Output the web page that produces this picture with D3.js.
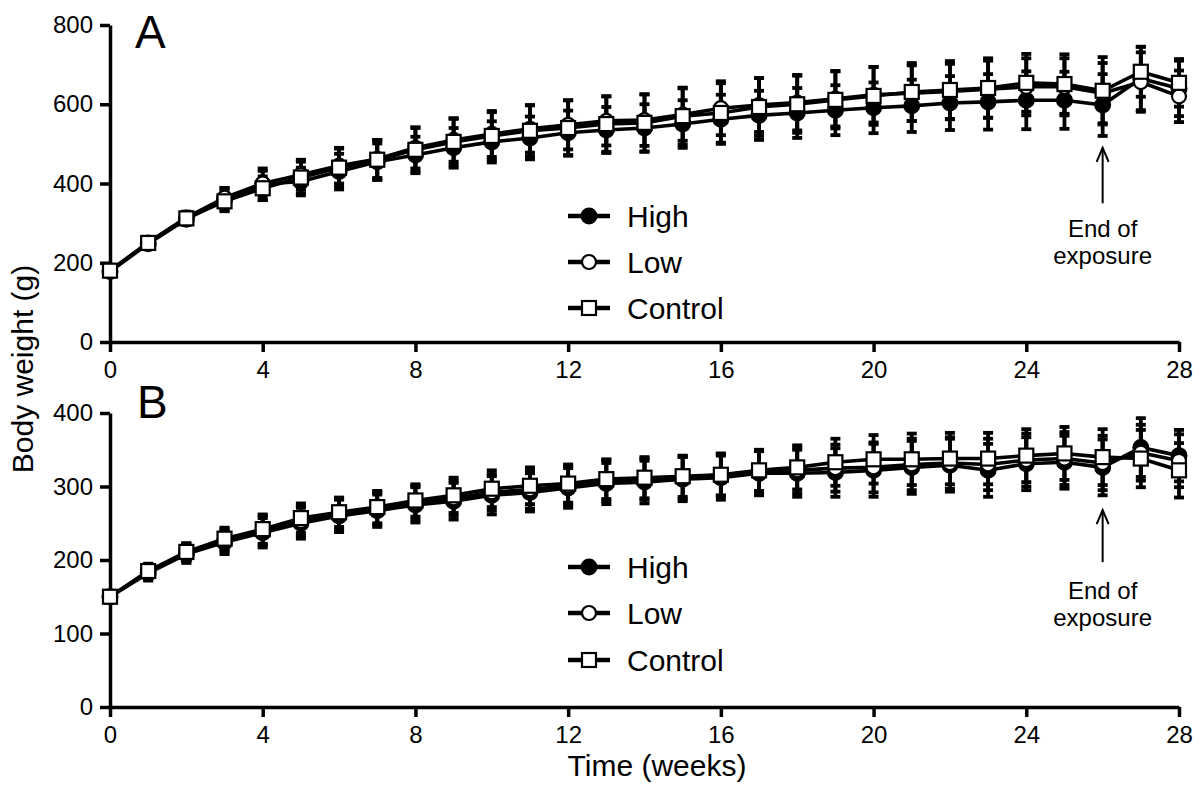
<!DOCTYPE html>
<html>
<head>
<meta charset="utf-8">
<script src="https://cdn.jsdelivr.net/npm/d3@7"></script>
<style>
  html, body { margin: 0; padding: 0; background: #fff; }
  svg { display: block; font-family: "Liberation Sans", Arial, Helvetica, sans-serif; }
</style>
</head>
<body>
<svg id="chart" width="1200" height="789"></svg>
<script>
// ---------------- DATA ----------------
const weeks = d3.range(0, 29);
const xTicks = [0, 4, 8, 12, 16, 20, 24, 28];
const yTicksA = [0, 200, 400, 600, 800];
const yTicksB = [0, 100, 200, 300, 400];
const seriesNames = ["High", "Low", "Control"];

// Panel A mean body weight (g)
const highA    = [178,248,310,360,398,405,430,455,472,490,505,515,528,535,540,550,562,572,578,585,591,596,603,606,610,610,598,665,640];
const lowA     = [180,251,314,364,400,422,445,462,490,510,525,538,548,558,560,574,590,598,604,614,624,628,632,638,644,644,628,656,620];
const controlA = [180,250,312,355,388,415,440,460,485,505,520,533,540,550,553,570,578,593,600,611,621,631,636,641,654,651,634,682,654];
// Panel A SD
const highA_sd    = [8,12,15,28,40,35,45,46,46,50,52,54,56,58,60,60,62,62,63,63,64,66,68,70,73,72,78,80,70];
const lowA_sd     = [8,12,15,25,32,38,45,48,52,55,58,60,62,62,65,66,68,68,70,70,70,70,70,72,72,72,76,75,65];
const controlA_sd = [8,12,15,25,30,40,48,50,55,58,60,64,70,70,72,72,75,73,72,72,73,73,73,75,73,75,85,63,60];

// Panel B mean body weight (g)
const highB    = [150,182,208,224,237,250,260,267,275,280,288,292,298,304,306,310,312,318,318,319,322,326,329,322,331,333,326,353,342];
const lowB     = [150,184,210,227,240,253,262,270,278,284,292,296,301,308,310,312,316,320,322,325,326,330,332,330,336,338,332,346,335];
const controlB = [150,185,211,229,242,257,265,272,281,288,297,301,304,310,312,314,316,322,326,333,337,337,338,338,342,345,340,338,322];
// Panel B SD
const highB_sd    = [5,10,12,16,20,21,22,22,24,25,26,26,27,28,29,30,30,30,32,33,36,36,36,36,36,36,38,40,35];
const lowB_sd     = [5,10,12,15,20,20,21,22,23,24,25,26,26,28,28,29,29,29,31,32,34,35,35,35,36,36,37,38,36];
const controlB_sd = [5,10,12,15,20,20,20,22,22,24,25,25,26,27,28,28,28,28,30,32,33,35,35,35,36,36,38,39,37];

const endOfExposureWeek = 26;

// ---------------- DRAW ----------------
const svg = d3.select("#chart");
const FONT_TICK = 24, FONT_TITLE = 30, FONT_LEG = 30, FONT_PANEL = 46, FONT_NOTE = 24;

const x = d3.scaleLinear().domain([0, 28]).range([110, 1179]);

const panels = [
  { label: "A", y: d3.scaleLinear().domain([0, 800]).range([342, 25]), ticks: yTicksA,
    data: [highA, lowA, controlA], sd: [highA_sd, lowA_sd, controlA_sd],
    legendY: [216, 262, 308], arrow: [490, 350], noteY: [237, 264], labelPos: [135, 48] },
  { label: "B", y: d3.scaleLinear().domain([0, 400]).range([707, 413]), ticks: yTicksB,
    data: [highB, lowB, controlB], sd: [highB_sd, lowB_sd, controlB_sd],
    legendY: [567, 613, 660], arrow: [268, 197], noteY: [599, 626], labelPos: [137, 418] }
];

function drawMarker(g, kind, cx, cy) {
  if (kind === 0) {
    g.append("circle").attr("cx", cx).attr("cy", cy).attr("r", 7.5)
      .attr("fill", "#000").attr("stroke", "#000").attr("stroke-width", 2);
  } else if (kind === 1) {
    g.append("circle").attr("cx", cx).attr("cy", cy).attr("r", 7)
      .attr("fill", "#fff").attr("stroke", "#000").attr("stroke-width", 2.2);
  } else {
    g.append("rect").attr("x", cx - 7).attr("y", cy - 7).attr("width", 14).attr("height", 14)
      .attr("fill", "#fff").attr("stroke", "#000").attr("stroke-width", 2.2);
  }
}

panels.forEach(p => {
  const y = p.y;
  const g = svg.append("g");

  // axes
  const yAxis = d3.axisLeft(y).tickValues(p.ticks).tickSize(10).tickSizeOuter(0).tickPadding(7);
  const yg = g.append("g").attr("transform", `translate(${x(0)},0)`).call(yAxis);
  const xAxis = d3.axisBottom(x).tickValues(xTicks).tickSize(10).tickSizeOuter(0).tickPadding(9);
  const xg = g.append("g").attr("transform", `translate(0,${y(0)})`).call(xAxis);
  [yg, xg].forEach(ax => {
    ax.select(".domain").attr("stroke", "#000").attr("stroke-width", 3.5);
    ax.selectAll(".tick line").attr("stroke", "#000").attr("stroke-width", 3.5);
    ax.selectAll(".tick text").attr("fill", "#000").style("font-size", FONT_TICK + "px")
      .style("font-family", '"Liberation Sans", Arial, sans-serif');
  });

  // error bars
  p.data.forEach((vals, si) => {
    const sds = p.sd[si];
    const eg = g.append("g").attr("stroke", "#000").attr("stroke-width", 3.8);
    weeks.forEach(w => {
      const top = y(vals[w] + sds[w]), bot = y(vals[w] - sds[w]);
      eg.append("line").attr("x1", x(w)).attr("x2", x(w)).attr("y1", top).attr("y2", bot);
      eg.append("line").attr("x1", x(w) - 5).attr("x2", x(w) + 5).attr("y1", top).attr("y2", top);
      eg.append("line").attr("x1", x(w) - 5).attr("x2", x(w) + 5).attr("y1", bot).attr("y2", bot);
    });
  });

  // lines
  const line = d3.line().x((d, i) => x(weeks[i])).y(d => y(d));
  p.data.forEach(vals => {
    g.append("path").datum(vals).attr("d", line).attr("fill", "none")
      .attr("stroke", "#000").attr("stroke-width", 3.6).attr("stroke-linejoin", "round");
  });

  // markers
  p.data.forEach((vals, si) => {
    const mg = g.append("g");
    weeks.forEach(w => drawMarker(mg, si, x(w), y(vals[w])));
  });

  // panel label
  g.append("text").attr("x", p.labelPos[0]).attr("y", p.labelPos[1])
    .style("font-size", FONT_PANEL + "px").text(p.label);

  // legend
  seriesNames.forEach((name, si) => {
    const ly = p.legendY[si];
    g.append("line").attr("x1", 568).attr("x2", 610).attr("y1", ly).attr("y2", ly)
      .attr("stroke", "#000").attr("stroke-width", 4.5);
    drawMarker(g, si, 589, ly);
    g.append("text").attr("x", 627).attr("y", ly + 10.5)
      .style("font-size", FONT_LEG + "px").text(name);
  });

  // end of exposure annotation
  const ax = x(endOfExposureWeek);
  const tipY = y(p.arrow[0]), baseY = y(p.arrow[1]);
  const ag = g.append("g").attr("stroke", "#000").attr("stroke-width", 2).attr("fill", "none");
  ag.append("line").attr("x1", ax).attr("x2", ax).attr("y1", tipY).attr("y2", baseY);
  ag.append("path").attr("d", `M${ax - 6},${tipY + 14} L${ax},${tipY} L${ax + 6},${tipY + 14}`);
  g.append("text").attr("x", ax).attr("y", p.noteY[0]).attr("text-anchor", "middle")
    .style("font-size", FONT_NOTE + "px").text("End of");
  g.append("text").attr("x", ax).attr("y", p.noteY[1]).attr("text-anchor", "middle")
    .style("font-size", FONT_NOTE + "px").text("exposure");
});

// axis titles
svg.append("text").attr("x", 657).attr("y", 776).attr("text-anchor", "middle")
  .style("font-size", FONT_TITLE + "px").text("Time (weeks)");
svg.append("text").attr("transform", "translate(33,369) rotate(-90)").attr("text-anchor", "middle")
  .style("font-size", FONT_TITLE + "px").text("Body weight (g)");
</script>
</body>
</html>
